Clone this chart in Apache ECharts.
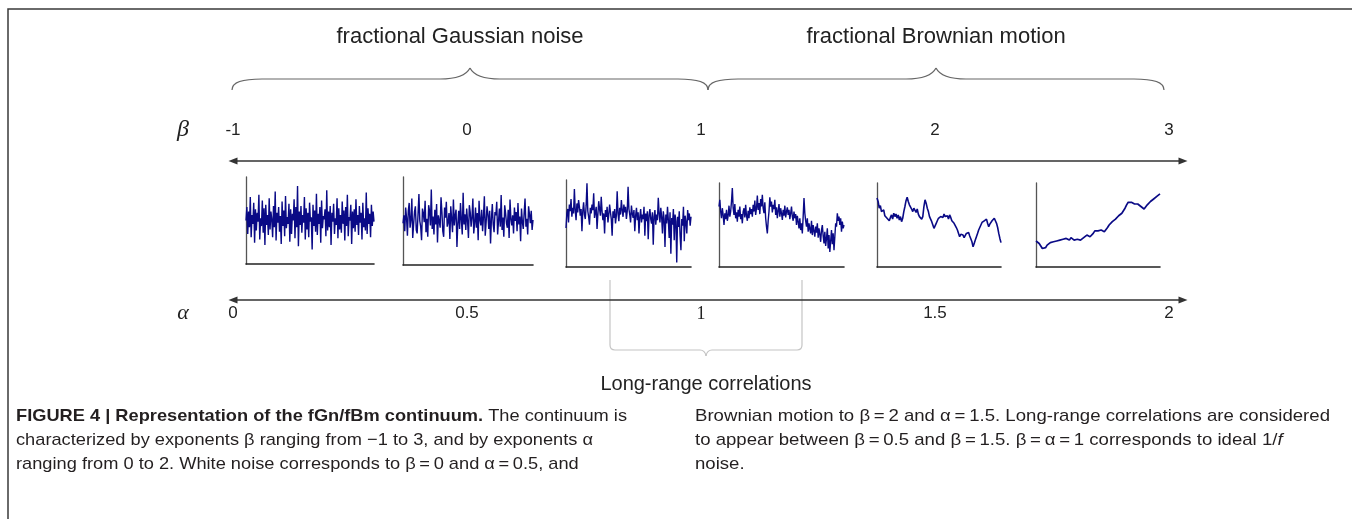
<!DOCTYPE html>
<html>
<head>
<meta charset="utf-8">
<title>fGn/fBm continuum</title>
<script src="https://cdn.jsdelivr.net/npm/echarts@6/dist/echarts.min.js"></script>
<style>
  html, body { margin: 0; padding: 0; background: #fff; }
  #chart { width: 1352px; height: 519px; }
</style>
</head>
<body>
<div id="chart"></div>
<script>
// exponent scales
const betaTicks = [-1, 0, 1, 2, 3];
const alphaTicks = [0, 0.5, 1, 1.5, 2];

// example signals, 0 = panel floor, 100 = panel top
const betaMinus1 = [50,62,38,58,44,71,35,55,47,66,30,60,41,57,49,73,33,52,45,68,39,61,28,64,46,55,37,70,42,58,51,35,63,44,76,32,57,48,62,40,54,29,67,45,59,36,72,43,53,47,65,31,60,38,56,50,69,34,62,44,81,27,58,46,63,39,55,48,71,33,61,42,57,35,66,49,53,24,64,45,59,40,74,37,56,47,62,30,68,43,54,51,60,36,77,41,58,44,63,28,57,49,65,38,52,46,70,34,61,42,55,39,67,47,59,32,62,45,73,36,53,50,64,29,58,43,60,40,69,46,55,37,63,48,57,33,66,44,52,41,75,38,61,47,56,35,64,45,58,49];
const beta0 = [48,55,41,62,53,37,59,66,44,51,70,35,47,58,63,42,39,56,74,50,45,33,61,57,49,68,40,52,36,64,59,46,78,43,54,38,60,47,65,31,55,50,44,71,58,41,36,62,53,67,45,49,57,34,63,52,40,69,46,55,60,27,48,59,43,66,51,38,75,47,56,42,61,50,35,64,58,45,53,70,39,48,62,44,57,33,68,51,46,60,41,54,72,37,49,63,56,43,59,30,52,65,47,40,58,55,67,38,50,61,45,73,42,53,36,64,57,48,44,60,35,69,52,46,55,39,62,50,58,41,66,47,54,32,61,49,43,57,70,45,52,38,63,56,48,59,42,51];
const beta05 = [45,58,62,50,66,60,71,55,63,58,80,61,52,67,59,70,64,56,62,42,60,68,57,53,65,85,60,55,48,63,58,66,61,76,54,59,64,44,57,69,62,56,73,60,52,58,40,61,55,64,50,57,66,59,53,38,60,54,62,49,56,78,58,51,63,57,70,61,55,66,59,64,53,60,82,62,57,50,65,58,54,61,42,56,63,52,59,40,55,62,50,57,53,64,38,58,51,60,35,56,62,53,49,59,30,55,61,48,57,52,72,58,50,63,55,40,60,53,28,57,49,64,52,36,59,22,54,48,62,34,57,51,14,55,46,60,38,25,53,47,64,33,56,50,40,61,52,58,47,55];
const beta1 = [72,80,66,58,70,62,50,64,57,68,55,61,73,60,66,78,94,70,62,75,58,65,54,68,60,72,57,63,52,66,70,59,74,61,55,67,58,71,63,69,60,74,66,79,62,70,85,68,76,63,81,72,86,70,64,77,58,48,40,55,66,83,72,78,65,74,69,80,62,71,58,67,75,60,70,64,56,68,61,73,59,66,71,62,68,57,64,72,60,55,66,58,63,50,61,54,46,58,44,52,40,60,82,64,55,48,58,42,52,45,40,55,38,50,43,36,48,41,52,35,46,39,30,44,50,37,28,42,25,34,46,22,38,18,31,44,27,40,20,36,52,48,64,55,60,50,58,42,54,46,50];
const beta2 = [82,78,70,73,66,64,68,61,63,58,60,55,59,62,57,64,60,63,58,62,56,60,54,58,66,72,79,83,78,74,76,69,66,70,68,65,69,63,60,62,57,60,72,80,76,70,66,60,58,54,50,46,49,52,55,58,56,60,62,59,63,60,58,61,57,62,59,55,56,52,50,47,44,40,36,39,37,38,35,36,40,38,41,37,35,30,24,28,32,36,40,44,46,50,53,51,55,54,57,52,48,51,49,55,57,58,56,52,47,40,34,29];
const beta3 = [31,30,28,25,22,20,23,26,27,29,31,30,32,31,33,32,31,33,35,34,33,32,35,33,32,34,33,31,32,34,35,36,38,37,36,38,40,43,44,43,45,44,43,42,44,47,50,52,54,56,57,59,61,62,64,66,70,74,77,76,77,76,75,76,75,74,72,71,69,70,74,76,78,80,81,82,84,85,87];

const signals = [betaMinus1, beta0, beta05, beta1, beta2, beta3];

// panel boxes in px: left, top, width, height; value range shown; trace width
const panelBoxes = [
  [246, 177, 128, 87],
  [403, 177, 130, 88],
  [566, 180, 125, 87],
  [719, 183, 125, 84],
  [877, 183, 124, 84],
  [1036, 183, 124, 84]
];
const panelRanges = [[11, 89], [11, 89], [10, 88], [0, 100], [0, 100], [0, 100]];
const traceWidths = [1.4, 1.4, 1.4, 1.4, 1.6, 1.7];

const SANS = '"Liberation Sans", Arial, sans-serif';
const SERIF = '"Liberation Serif", "Times New Roman", serif';
const INK = '#222';

const grid = [];
const xAxis = [];
const yAxis = [];
const series = [];

panelBoxes.forEach(([left, top, width, height], i) => {
  grid.push({ left, top, width, height, outerBoundsMode: 'none' });
  xAxis.push({
    gridIndex: i,
    type: 'category',
    boundaryGap: false,
    data: signals[i].map((_, k) => k),
    axisLine: { lineStyle: { color: '#222', width: 1.6 } },
    axisTick: { show: false },
    axisLabel: { show: false }
  });
  yAxis.push({
    gridIndex: i,
    type: 'value',
    min: panelRanges[i][0],
    max: panelRanges[i][1],
    axisLine: { show: true, onZero: false, lineStyle: { color: '#555', width: 1.3 } },
    axisTick: { show: false },
    axisLabel: { show: false },
    splitLine: { show: false }
  });
  series.push({
    type: 'line',
    xAxisIndex: i,
    yAxisIndex: i,
    data: signals[i],
    showSymbol: false,
    silent: true,
    lineStyle: { color: '#0a0a86', width: traceWidths[i] }
  });
});

// beta and alpha axes share the same horizontal span
const arrowLine = {
  show: true,
  onZero: false,
  symbol: ['triangle', 'triangle'],
  symbolSize: [7, 9],
  lineStyle: { color: '#333', width: 1.5 }
};

grid.push({ left: 233, width: 950, top: 161, height: 10, outerBoundsMode: 'none' });
xAxis.push({
  gridIndex: 6,
  type: 'value',
  position: 'top',
  min: -1,
  max: 3.06,
  interval: 1,
  axisLine: arrowLine,
  axisTick: { show: false },
  splitLine: { show: false },
  axisLabel: {
    margin: 22,
    fontSize: 17,
    fontFamily: SANS,
    color: INK,
    formatter: v => (betaTicks.includes(v) ? String(v) : '')
  }
});
yAxis.push({ gridIndex: 6, show: false, min: 0, max: 1 });

grid.push({ left: 233, width: 950, top: 290, height: 10, outerBoundsMode: 'none' });
xAxis.push({
  gridIndex: 7,
  type: 'value',
  position: 'bottom',
  min: 0,
  max: 2.03,
  interval: 0.5,
  axisLine: arrowLine,
  axisTick: { show: false },
  splitLine: { show: false },
  axisLabel: {
    margin: 5,
    fontSize: 17,
    fontFamily: SANS,
    color: INK,
    formatter: v => {
      if (!alphaTicks.includes(v)) return '';
      return v === 1 ? '{serif|1}' : String(v);
    },
    rich: { serif: { fontFamily: SERIF, fontSize: 18, color: INK } }
  }
});
yAxis.push({ gridIndex: 7, show: false, min: 0, max: 1 });

// caption: squeeze a regular sans to the condensed width of the original
const CAP_SIZE = 17;
const measureCtx = document.createElement('canvas').getContext('2d');
function measure(txt, weight) {
  measureCtx.font = `${weight || 'normal'} ${CAP_SIZE}px "Liberation Sans"`;
  return measureCtx.measureText(txt).width;
}
const boldHead = 'FIGURE 4 | Representation of the fGn/fBm continuum.';
const eq = '\u2009=\u2009';
const leftLines = [
  `{b|${boldHead}} The continuum is`,
  'characterized by exponents β ranging from \u22121 to 3, and by exponents α',
  `ranging from 0 to 2. White noise corresponds to β${eq}0 and α${eq}0.5, and`
];
const rightLines = [
  `Brownian motion to β${eq}2 and α${eq}1.5. Long-range correlations are considered`,
  `to appear between β${eq}0.5 and β${eq}1.5. β${eq}α${eq}1 corresponds to ideal 1/{i|f}`,
  'noise.'
];
const leftScale = 611 / (measure(boldHead, 'bold') + measure(' The continuum is'));
const rightScale = 635 / measure(rightLines[0]);

function captionLine(text, x, y, scaleX) {
  return {
    type: 'text',
    x,
    y,
    scaleX,
    silent: true,
    style: {
      text,
      x: 0,
      y: 0,
      fontSize: CAP_SIZE,
      fontFamily: SANS,
      fill: '#231f20',
      verticalAlign: 'middle',
      align: 'left',
      rich: {
        b: { fontWeight: 'bold', fontSize: CAP_SIZE, fontFamily: SANS, fill: '#231f20' },
        i: { fontStyle: 'italic', fontSize: CAP_SIZE, fontFamily: SANS, fill: '#231f20' }
      }
    }
  };
}

const lineYs = [416, 440, 464];
const captions = [
  ...leftLines.map((t, k) => captionLine(t, 16, lineYs[k], leftScale)),
  ...rightLines.map((t, k) => captionLine(t, 695, lineYs[k], rightScale))
];

function label(text, x, y, size, extra) {
  return {
    type: 'text',
    x,
    y,
    silent: true,
    style: Object.assign({
      text,
      fontSize: size,
      fontFamily: SANS,
      fill: INK,
      align: 'center',
      verticalAlign: 'middle'
    }, extra || {})
  };
}

// brace pieces: curves [p0, c1, c2, p1] and straight runs [p0, p1]
function curve(p0, c1, c2, p1, style) {
  const shape = { x1: p0[0], y1: p0[1], x2: p1[0], y2: p1[1], cpx1: c1[0], cpy1: c1[1] };
  if (c2) { shape.cpx2 = c2[0]; shape.cpy2 = c2[1]; }
  return { type: 'bezierCurve', silent: true, shape, style: Object.assign({ fill: null }, style) };
}
function run(p0, p1, style) {
  return { type: 'line', silent: true, shape: { x1: p0[0], y1: p0[1], x2: p1[0], y2: p1[1] }, style };
}

function brace(x0, xm, x1, style) {
  return [
    curve([x0, 90], [x0, 82], [x0 + 10, 79], [x0 + 30, 79], style),
    run([x0 + 30, 79], [xm - 30, 79], style),
    curve([xm - 30, 79], [xm - 14, 79], [xm - 4, 76], [xm, 68], style),
    curve([xm, 68], [xm + 4, 76], [xm + 14, 79], [xm + 30, 79], style),
    run([xm + 30, 79], [x1 - 30, 79], style),
    curve([x1 - 30, 79], [x1 - 10, 79], [x1, 82], [x1, 90], style)
  ];
}

const braceStyle = { stroke: '#666', lineWidth: 1.2 };
const lrStyle = { stroke: '#c4c4c4', lineWidth: 1.2 };

const graphic = [
  {
    type: 'polyline',
    silent: true,
    shape: { points: [[1360, 9], [8, 9], [8, 530]] },
    style: { stroke: '#3a3a3a', lineWidth: 1.5, fill: null }
  },
  label('fractional Gaussian noise', 460, 37, 22),
  label('fractional Brownian motion', 936, 37, 22),
  ...brace(232, 470, 708, braceStyle),
  ...brace(708, 936, 1164, braceStyle),
  label('β', 183, 130, 24, { fontFamily: SERIF, fontStyle: 'italic' }),
  label('α', 183, 313, 22, { fontFamily: SERIF, fontStyle: 'italic' }),
  run([610, 280], [610, 345], lrStyle),
  curve([610, 345], [610, 350], null, [615, 350], lrStyle),
  run([615, 350], [700, 350], lrStyle),
  curve([700, 350], [705, 350], null, [706, 356], lrStyle),
  curve([706, 356], [707, 350], null, [712, 350], lrStyle),
  run([712, 350], [797, 350], lrStyle),
  curve([797, 350], [802, 350], null, [802, 345], lrStyle),
  run([802, 345], [802, 280], lrStyle),
  label('Long-range correlations', 706, 384, 20),
  ...captions
];

const chart = echarts.init(document.getElementById('chart'));
chart.setOption({
  animation: false,
  backgroundColor: '#fff',
  grid,
  xAxis,
  yAxis,
  series,
  graphic
});
</script>
</body>
</html>
